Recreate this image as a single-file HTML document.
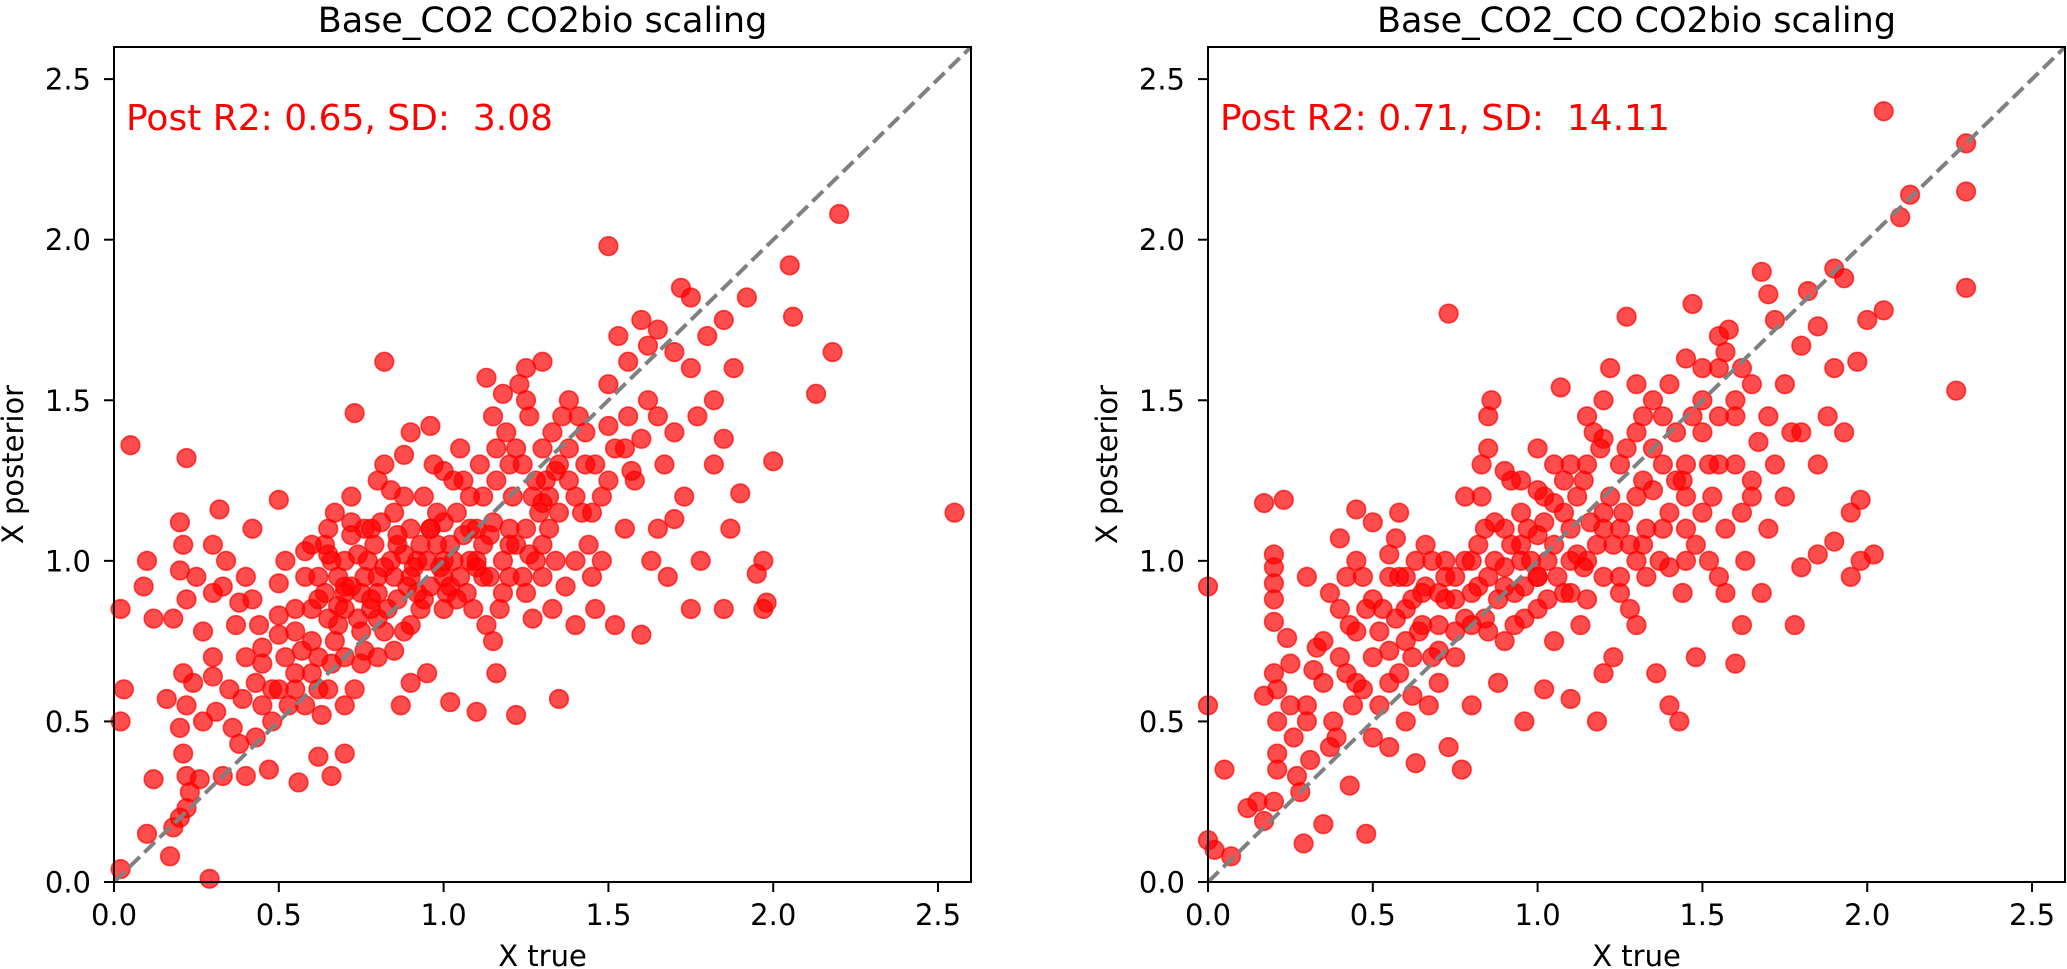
<!DOCTYPE html>
<html><head><meta charset="utf-8">
<style>
html,body{margin:0;padding:0;background:#fff;}
svg{display:block;font-family:"DejaVu Sans","Liberation Sans",sans-serif;}
</style></head>
<body>
<svg id="fig" width="2067" height="969" viewBox="0 0 2067 969"></svg>
<script>
const xTicks = [0.0, 0.5, 1.0, 1.5, 2.0, 2.5];
const yTicks = [0.0, 0.5, 1.0, 1.5, 2.0, 2.5];
const tickLabels = ["0.0","0.5","1.0","1.5","2.0","2.5"];
const titles = ["Base_CO2 CO2bio scaling", "Base_CO2_CO CO2bio scaling"];
const statLabels = ["Post R2: 0.65, SD:  3.08", "Post R2: 0.71, SD:  14.11"];
const leftX = [0.02,0.03,0.02,0.05,0.02,0.1,0.17,0.29,0.09,0.12,0.1,0.18,0.12,0.16,0.22,0.2,0.21,0.2,0.22,0.25,0.24,0.21,0.22,0.2,0.21,0.22,0.23,0.22,0.2,0.18,0.26,0.3,0.32,0.34,0.3,0.33,0.3,0.31,0.33,0.36,0.38,0.39,0.4,0.38,0.4,0.4,0.43,0.45,0.44,0.42,0.47,0.48,0.5,0.5,0.52,0.5,0.53,0.55,0.57,0.56,0.6,0.62,0.6,0.62,0.63,0.65,0.67,0.7,0.7,0.67,0.66,0.7,0.73,0.75,0.73,0.75,0.77,0.78,0.8,0.82,0.8,0.83,0.85,0.86,0.88,0.87,0.9,0.9,0.92,0.95,0.96,0.97,0.95,1.0,1.0,1.02,1.03,1.02,1.05,1.07,1.08,1.1,1.1,1.12,1.13,1.15,1.16,1.18,1.2,1.2,1.22,1.23,1.25,1.25,1.27,1.28,1.3,1.32,1.33,1.35,1.36,1.38,1.4,1.42,1.43,1.45,1.46,1.48,1.5,1.5,1.52,1.52,1.53,1.55,1.56,1.58,1.6,1.6,1.62,1.63,1.65,1.67,1.68,1.7,1.72,1.73,1.75,1.75,1.77,1.78,1.8,1.82,1.85,1.85,1.87,1.9,1.92,1.95,1.97,1.97,1.98,2.0,2.05,2.06,2.13,2.18,2.2,2.55,1.85,1.7,1.6,1.4,1.3,
0.55,0.58,0.6,0.62,0.64,0.65,0.68,0.68,0.7,0.72,0.72,0.74,0.76,0.78,0.79,0.8,0.81,0.82,0.84,0.85,0.86,0.88,0.89,0.9,0.91,0.93,0.93,0.94,0.96,0.98,0.99,1.0,1.01,1.03,1.04,1.05,1.06,1.08,1.09,1.1,1.11,1.12,1.14,1.15,1.16,1.17,1.19,1.2,1.21,1.22,1.24,1.25,1.26,1.27,1.29,1.3,1.31,1.33,1.34,1.35,1.37,1.38,1.4,1.41,1.44,1.46,1.48,1.5,0.45,0.5,0.52,0.48,0.58,0.62,0.66,0.7,0.35,0.3,0.27,0.27,0.43,0.37,0.58,0.65,0.72,0.76,0.82,0.88,0.96,1.0,1.13,1.18,1.3,1.38,1.43,1.57,1.65,1.7,1.75,1.82,1.88,1.62,1.56,1.5,
0.62,0.66,0.7,0.74,0.78,0.82,0.86,0.9,0.94,0.98,1.02,1.06,1.1,1.14,1.18,1.22,1.26,1.3,1.34,0.64,0.68,0.72,0.76,0.8,0.84,0.88,0.92,0.96,1.0,1.04,1.08,1.12,1.16,1.2,1.24,1.28,1.32,0.55,0.6,0.65,0.7,0.75,0.8,0.85,0.5,0.45,0.42,0.55,0.9,1.15,1.25,1.45,1.55,1.65,1.35];
const leftY = [0.85,0.6,0.5,1.36,0.04,0.15,0.08,0.01,0.92,0.82,1.0,0.82,0.32,0.57,1.32,1.12,1.05,0.97,0.88,0.95,0.62,0.65,0.55,0.48,0.4,0.33,0.28,0.23,0.2,0.17,0.32,1.05,1.16,1.0,0.9,0.92,0.64,0.53,0.33,0.48,0.43,0.57,0.7,0.87,0.95,0.33,0.62,0.73,0.8,1.1,0.35,0.6,0.77,0.93,1.0,1.19,0.55,0.65,0.72,0.31,0.85,0.95,1.05,0.39,0.52,0.6,0.75,0.85,1.0,1.15,0.33,0.4,0.6,0.78,1.46,0.9,1.0,1.1,1.25,1.62,0.7,0.85,0.95,1.05,1.2,0.55,1.4,0.8,0.9,1.0,1.1,1.3,0.65,0.85,0.95,1.05,1.25,0.56,1.35,0.9,1.0,1.1,0.53,1.2,0.8,1.45,0.65,1.0,1.1,1.3,0.52,1.55,1.6,0.9,1.2,1.0,1.35,1.1,0.85,0.57,1.45,1.25,1.0,1.15,1.4,0.95,0.85,1.2,1.98,1.55,1.35,0.8,1.7,1.1,1.45,1.25,1.75,0.77,1.5,1.0,1.72,1.3,0.95,1.65,1.85,1.2,0.85,1.82,1.45,1.0,1.7,1.3,0.85,1.75,1.1,1.21,1.82,0.96,0.85,1.0,0.87,1.31,1.92,1.76,1.52,1.65,2.08,1.15,1.38,1.13,1.38,0.8,0.95,
0.85,0.95,0.75,0.7,0.9,1.1,0.8,0.95,0.7,0.92,1.08,0.82,0.95,0.88,1.05,0.95,1.12,0.78,1.0,1.15,0.88,1.02,0.92,1.1,0.98,1.05,0.85,1.2,0.92,1.05,0.98,1.12,0.9,1.0,1.15,0.95,1.08,1.2,0.85,1.0,1.3,1.05,0.95,1.12,1.25,0.85,1.4,0.95,1.2,1.05,1.3,1.1,1.45,0.82,1.15,1.05,1.25,1.4,1.0,1.15,0.92,1.35,1.2,1.45,1.05,1.3,1.0,1.25,0.55,0.6,0.7,0.5,0.55,0.6,0.68,0.55,0.6,0.7,0.78,0.5,0.45,0.8,1.03,1.02,1.2,1.1,1.3,1.33,1.42,1.28,1.57,1.52,1.62,1.5,1.3,1.28,1.1,1.4,1.6,1.5,1.6,1.67,1.62,1.42,
0.88,1.0,0.9,1.02,0.85,0.98,1.08,0.95,0.88,1.15,0.92,1.25,0.98,1.08,0.9,1.35,1.02,1.18,1.28,1.05,0.86,1.12,0.72,0.82,1.22,0.78,1.0,1.1,1.0,0.88,1.1,0.95,1.35,1.05,0.95,1.25,1.2,0.78,0.65,0.82,0.92,0.68,0.9,0.72,0.83,0.68,0.88,0.6,0.62,0.75,1.5,1.15,1.35,1.45,1.3];
const rightX = [0.0,0.0,0.0,0.02,0.05,0.07,0.12,0.15,0.17,0.17,0.17,0.2,0.2,0.2,0.2,0.2,0.2,0.21,0.21,0.21,0.21,0.2,0.23,0.24,0.25,0.25,0.26,0.27,0.28,0.29,0.3,0.3,0.31,0.32,0.33,0.35,0.37,0.38,0.39,0.4,0.42,0.43,0.43,0.45,0.45,0.47,0.48,0.5,0.5,0.52,0.53,0.55,0.55,0.57,0.58,0.6,0.6,0.62,0.63,0.63,0.65,0.67,0.7,0.7,0.72,0.73,0.73,0.75,0.77,0.78,0.8,0.8,0.82,0.83,0.85,0.86,0.87,0.88,0.9,0.9,0.92,0.93,0.95,0.96,0.97,1.0,1.0,1.02,1.03,1.05,1.05,1.07,1.08,1.1,1.1,1.12,1.13,1.15,1.17,1.18,1.2,1.2,1.22,1.23,1.25,1.25,1.27,1.28,1.3,1.3,1.32,1.33,1.35,1.36,1.38,1.4,1.4,1.42,1.43,1.45,1.45,1.47,1.48,1.5,1.5,1.52,1.55,1.55,1.57,1.58,1.6,1.6,1.62,1.63,1.65,1.67,1.68,1.7,1.7,1.72,1.75,1.77,1.78,1.8,1.8,1.82,1.85,1.85,1.88,1.9,1.9,1.93,1.93,1.95,1.97,1.98,1.98,2.0,2.02,2.05,2.05,2.1,2.13,2.27,2.3,2.3,2.3,
0.5,0.52,0.55,0.57,0.6,0.62,0.64,0.66,0.68,0.68,0.7,0.72,0.75,0.75,0.78,0.8,0.82,0.84,0.85,0.87,0.88,0.9,0.92,0.93,0.95,0.96,0.98,1.0,1.0,1.02,1.03,1.05,1.06,1.08,1.1,1.1,1.12,1.14,1.15,1.16,1.18,1.19,1.2,1.22,1.23,1.25,1.27,1.28,1.3,1.32,1.33,1.35,1.37,1.38,1.4,1.42,1.44,1.45,1.47,1.48,1.5,1.52,1.53,1.55,1.57,1.6,1.62,1.65,1.57,1.45,0.45,0.48,0.42,0.44,0.5,0.47,0.55,0.58,0.4,0.35,0.37,0.85,0.83,0.95,1.0,1.15,1.2,1.3,1.75,1.72,1.8,1.85,1.9,1.95,1.68,1.62,1.55,
0.55,0.6,0.65,0.7,0.75,0.8,0.85,0.9,0.95,1.0,1.05,1.1,1.15,1.2,1.25,1.3,1.35,1.4,1.45,1.5,0.58,0.62,0.66,0.72,0.78,0.84,0.9,0.96,1.02,1.08,1.14,1.2,1.26,1.32,1.38,1.44,0.3,0.35,0.4,0.45,1.6,1.7,1.55,1.65];
const rightY = [0.92,0.55,0.13,0.1,0.35,0.08,0.23,0.25,0.19,0.58,1.18,1.02,0.98,0.93,0.88,0.81,0.65,0.6,0.5,0.4,0.35,0.25,1.19,0.76,0.68,0.55,0.45,0.33,0.28,0.12,0.5,0.95,0.38,0.66,0.73,0.18,0.42,0.5,0.45,1.07,0.95,0.3,0.8,1.0,1.16,0.6,0.15,1.12,0.7,0.55,0.85,0.95,0.42,1.07,0.65,0.75,0.5,0.88,1.0,0.37,0.8,0.55,0.9,0.62,1.0,1.77,0.42,0.7,0.35,1.2,0.8,0.55,0.92,1.3,1.45,1.5,1.0,0.62,1.1,0.75,1.25,0.9,1.0,0.5,1.1,0.85,1.22,0.6,1.0,1.3,0.75,1.54,0.9,1.1,0.57,1.2,0.8,1.0,1.4,0.5,1.15,0.65,1.6,0.7,0.9,1.3,1.76,1.05,1.2,0.8,1.45,0.95,1.35,0.65,1.1,1.55,0.55,1.25,0.5,1.63,1.0,1.8,0.7,1.4,1.15,1.0,1.6,1.3,0.9,1.72,1.45,0.68,1.15,1.0,1.55,1.37,1.9,1.83,1.1,1.3,1.55,1.4,0.8,1.67,0.98,1.84,1.73,1.02,1.45,1.91,1.06,1.4,1.88,0.95,1.62,1.19,1.0,1.75,1.02,1.78,2.4,2.07,2.14,1.53,2.3,2.15,1.85,
0.88,0.78,0.72,0.82,0.95,0.7,0.78,0.92,1.0,0.7,0.8,0.88,0.95,0.78,1.0,0.9,1.05,0.82,0.95,1.12,0.88,0.98,1.05,0.8,1.15,0.92,1.0,1.08,0.95,1.2,0.88,1.05,0.95,1.15,1.3,0.9,1.02,1.25,0.88,1.12,1.05,1.35,0.95,1.2,1.05,1.1,1.35,0.85,1.0,1.25,1.1,1.5,1.0,1.3,1.15,1.4,0.9,1.2,1.45,1.05,1.6,1.3,1.2,1.45,1.1,1.3,1.6,1.25,1.65,1.3,0.78,0.85,0.65,0.55,0.45,0.95,1.02,1.15,0.7,0.62,0.9,1.35,1.2,1.25,1.35,1.45,1.5,1.55,1.2,1.75,1.4,1.3,1.6,1.15,0.9,0.8,0.95,
0.62,0.85,0.9,0.72,0.88,1.0,0.78,0.92,1.05,0.95,1.18,1.0,1.3,1.1,0.95,1.4,1.22,0.98,1.1,1.5,0.95,0.58,1.05,0.95,0.82,1.1,1.28,0.82,1.12,1.25,0.98,1.38,1.15,1.05,1.45,1.25,0.55,0.75,0.85,0.62,1.5,1.45,1.7,1.2];

const NS = "http://www.w3.org/2000/svg";
const svg = document.getElementById("fig");
function mk(tag, attrs, parent) {
  const e = document.createElementNS(NS, tag);
  for (const k in attrs) e.setAttribute(k, attrs[k]);
  (parent || svg).appendChild(e);
  return e;
}
const panels = [
  {left:114, xs:leftX, ys:leftY, key:"left"},
  {left:1208, xs:rightX, ys:rightY, key:"right"}
];
const plotTop = 47, plotBottom = 882, plotW = 857, xMax = 2.6, yMax = 2.6;

panels.forEach((p, i) => {
  const g = mk("g", {});
  
  
  const sx = v => p.left + v / xMax * plotW;
  const sy = v => plotBottom - v / yMax * (plotBottom - plotTop);
  const midX = p.left + plotW / 2;

  const t = mk("text", {x: midX, y: 32, "text-anchor": "middle", "font-size": 35, fill: "#000"}, g);
  t.textContent = titles[i];
  
  

  const pts = mk("g", {}, g);
  
  
  for (let k = 0; k < Math.min(p.xs.length, p.ys.length); k++) {
    const c = mk("circle", {cx: sx(p.xs[k]), cy: sy(p.ys[k]), r: 9.3, fill: "rgba(255,0,0,0.7)", stroke: "rgba(255,0,0,0.7)", "stroke-width": 1.6}, pts);
    
    
  }

  const dl = mk("line", {x1: sx(0), y1: sy(0), x2: sx(xMax), y2: sy(yMax), stroke: "#808080", "stroke-width": 4, "stroke-dasharray": "14.8 6.4"}, g);
  
  

  const fr = mk("rect", {x: p.left, y: plotTop, width: plotW, height: plotBottom - plotTop, fill: "none", stroke: "#000", "stroke-width": 2}, g);
  
  

  const st = mk("text", {x: p.left + 12, y: 130, "font-size": 36, fill: "#ff0000", style: "white-space:pre"}, g);
  st.textContent = statLabels[i];
  
  

  xTicks.forEach((v, j) => {
    mk("line", {x1: sx(v), y1: plotBottom, x2: sx(v), y2: plotBottom + 10, stroke: "#000", "stroke-width": 2}, g);
    const tl = mk("text", {x: sx(v), y: 925, "text-anchor": "middle", "font-size": 29, fill: "#000"}, g);
    tl.textContent = tickLabels[j];
    
    
  });
  yTicks.forEach((v, j) => {
    mk("line", {x1: p.left - 10, y1: sy(v), x2: p.left, y2: sy(v), stroke: "#000", "stroke-width": 2}, g);
    const tl = mk("text", {x: p.left - 23, y: sy(v) + 10.5, "text-anchor": "end", "font-size": 29, fill: "#000"}, g);
    tl.textContent = tickLabels[j];
    
    
  });

  const xl = mk("text", {x: midX, y: 966, "text-anchor": "middle", "font-size": 29, fill: "#000"}, g);
  xl.textContent = "X true";
  
  

  const yx = p.left - 91, yy = (plotTop + plotBottom) / 2;
  const yl = mk("text", {x: yx, y: yy, "text-anchor": "middle", "font-size": 29, fill: "#000", transform: `rotate(-90 ${yx} ${yy})`}, g);
  yl.textContent = "X posterior";
  
  
});
</script>
</body></html>
